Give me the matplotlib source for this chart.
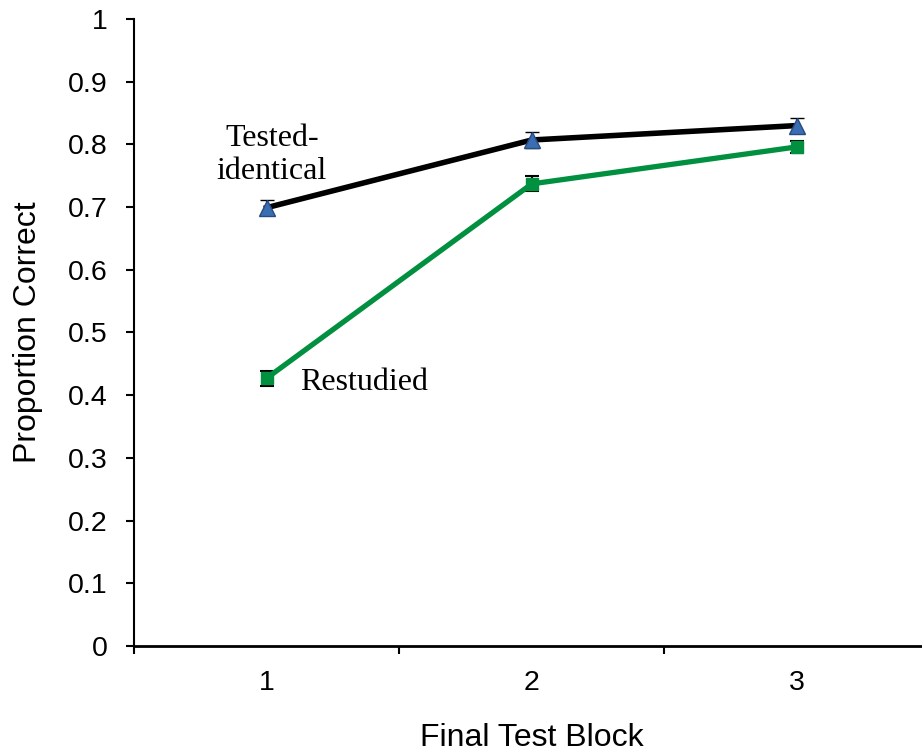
import matplotlib.pyplot as plt
import numpy as np

plt.rcParams['font.family'] = ['Liberation Sans', 'DejaVu Sans']

blocks = [1, 2, 3]
block_labels = ['1', '2', '3']
tested = [0.699, 0.807, 0.830]
tested_err = [0.012, 0.012, 0.012]
restudied = [0.427, 0.737, 0.796]
restudied_err = [0.012, 0.012, 0.010]

fig = plt.figure(figsize=(9.22, 7.53), dpi=100)
ax = fig.add_axes([0.1453, 0.1421, 0.8628, 0.8327])

# black line with blue triangles
ax.errorbar(blocks, tested, yerr=tested_err, color='black', ecolor='black',
            elinewidth=1.5, capsize=5, capthick=1.5, lw=4, zorder=3,
            marker='^', markersize=11, markerfacecolor='#3b6db3',
            markeredgecolor='#274b80', markeredgewidth=1)
# green line with squares
ax.errorbar(blocks, restudied, yerr=restudied_err, color='#009040', ecolor='black',
            elinewidth=1.5, capsize=5, capthick=1.5, lw=3.8, zorder=3,
            marker='s', markersize=9, markerfacecolor='#009040',
            markeredgecolor='#009040')

ax.text(1.02, 0.783, 'Tested-\nidentical', family=['Liberation Serif'], fontsize=23,
        ha='center', va='center', multialignment='center', linespacing=1.15)
ax.text(1.125, 0.421, 'Restudied', family=['Liberation Serif'], fontsize=23,
        ha='left', va='center')

ax.set_xlim(0.5, 3.5)
ax.set_ylim(0, 1)
ax.set_yticks(np.arange(0, 1.01, 0.1))
ax.set_yticklabels(['0', '0.1', '0.2', '0.3', '0.4', '0.5', '0.6', '0.7', '0.8', '0.9', '1'])
ax.set_xticks([0.5, 1.5, 2.5, 3.5])
ax.set_xticklabels([])
ax.set_xticks(blocks, minor=True)
ax.set_xticklabels(block_labels, minor=True)
ax.tick_params(axis='x', which='minor', length=0, pad=17, labelsize=20.5)
ax.tick_params(axis='x', which='major', direction='out', length=6, width=1.5)
ax.tick_params(axis='y', direction='out', length=6, width=1.5, labelsize=20.5, pad=13)

ax.spines['top'].set_visible(False)
ax.spines['right'].set_visible(False)
ax.spines['left'].set_linewidth(1.5)
ax.spines['bottom'].set_linewidth(2)

ax.set_xlabel('Final Test Block', fontsize=23, labelpad=20)
ax.set_ylabel('Proportion Correct', fontsize=23, labelpad=18)

fig.savefig('out.png', dpi=100)
